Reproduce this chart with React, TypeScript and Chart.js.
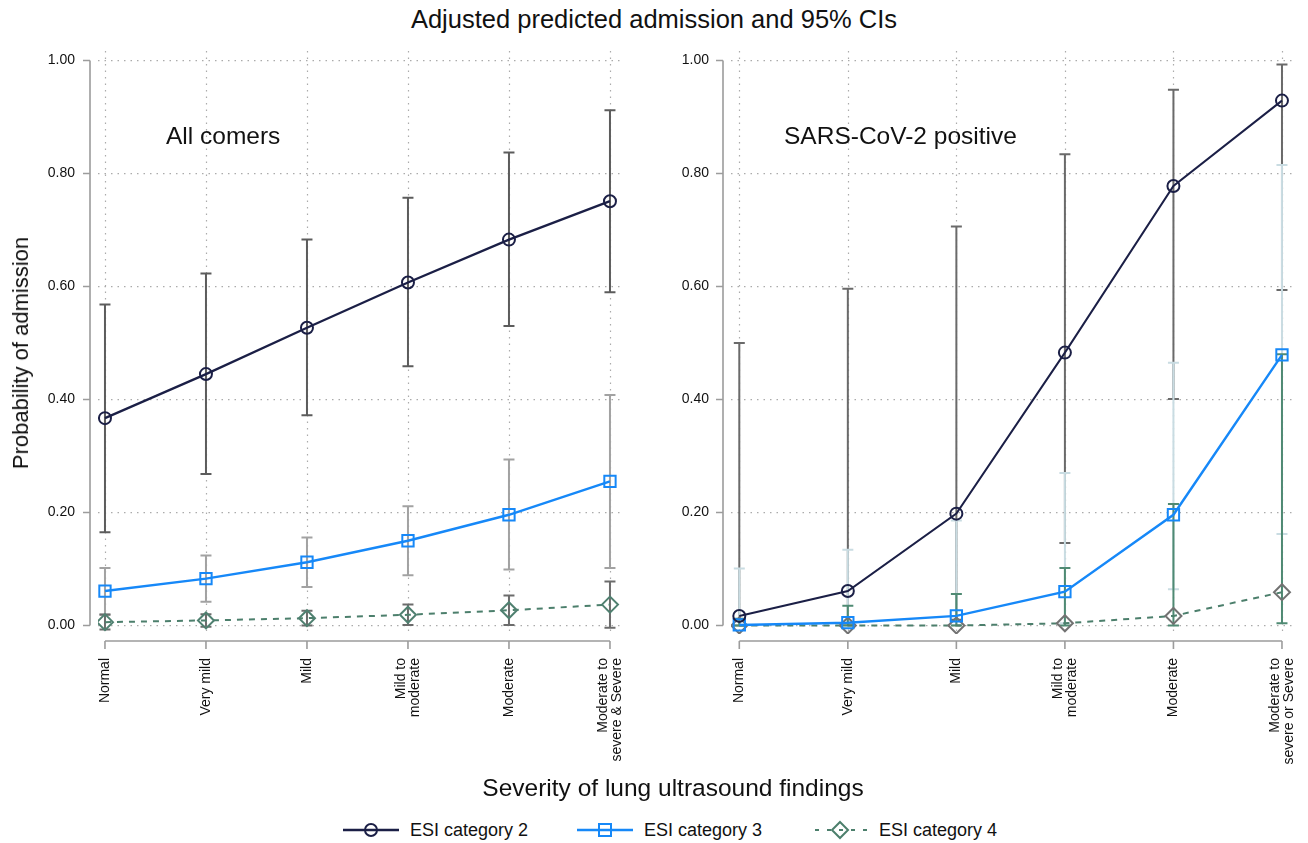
import React, { useEffect, useRef } from "react";
import { Chart, registerables } from "chart.js";

Chart.register(...registerables);

const FONT = "'Liberation Sans', Arial, Helvetica, sans-serif";

// ---------------- data ----------------
const severityAll: string[][] = [["Normal"], ["Very mild"], ["Mild"], ["Mild to", "moderate"], ["Moderate"], ["Moderate to", "severe & Severe"]];
const severityCov: string[][] = [["Normal"], ["Very mild"], ["Mild"], ["Mild to", "moderate"], ["Moderate"], ["Moderate to", "severe or Severe"]];
const yTickValues = [0, 0.2, 0.4, 0.6, 0.8, 1.0];

// All comers
const allEsi2 = [0.367, 0.445, 0.527, 0.607, 0.683, 0.751];
const allEsi2Lo = [0.165, 0.268, 0.372, 0.459, 0.530, 0.590];
const allEsi2Hi = [0.568, 0.623, 0.683, 0.757, 0.837, 0.912];
const allEsi3 = [0.061, 0.083, 0.112, 0.150, 0.196, 0.255];
const allEsi3Lo = [0.020, 0.042, 0.068, 0.089, 0.099, 0.102];
const allEsi3Hi = [0.102, 0.124, 0.156, 0.211, 0.294, 0.408];
const allEsi4 = [0.006, 0.009, 0.013, 0.019, 0.027, 0.037];
const allEsi4Lo = [-0.007, -0.002, 0.000, 0.001, 0.001, -0.004];
const allEsi4Hi = [0.019, 0.020, 0.026, 0.037, 0.053, 0.078];

// SARS-CoV-2 positive
const covEsi2 = [0.017, 0.061, 0.198, 0.483, 0.778, 0.929];
const covEsi2Lo = [0.000, 0.002, 0.010, 0.146, 0.401, 0.594];
const covEsi2Hi = [0.500, 0.596, 0.706, 0.834, 0.948, 0.993];
const covEsi3 = [0.001, 0.005, 0.017, 0.060, 0.196, 0.479];
const covEsi3Lo = [0.000, 0.000, 0.001, 0.004, 0.064, 0.162];
const covEsi3Hi = [0.101, 0.134, 0.186, 0.270, 0.465, 0.815];
const covEsi4 = [0.000, 0.000, 0.000, 0.004, 0.017, 0.059];
const covEsi4Lo = [0.000, 0.000, 0.000, 0.000, 0.000, 0.004];
const covEsi4Hi = [0.012, 0.035, 0.056, 0.102, 0.215, 0.480];

// ---------------- styles ----------------
const NAVY = "#1b1f46";
const BLUE = "#1688f8";
const GREEN = "#4c7f6c";
const AXIS = "#9c9c9c";
const GRID = "#ababab";

type Bars = { lo: number[]; hi: number[]; color: string }[];

type Panel = {
  left: number;
  labels: string[][];
  esi2: number[];
  esi3: number[];
  esi4: number[];
  bars: Bars;
  diamond: string;
  xMin: number;
  xMax: number;
  yWidth: number;
  yPad: number;
  padRight: number;
  shift: number;
  navyWidth: number;
};

const panelAll: Panel = {
  left: 0,
  labels: severityAll,
  esi2: allEsi2,
  esi3: allEsi3,
  esi4: allEsi4,
  bars: [
    { lo: allEsi2Lo, hi: allEsi2Hi, color: "#5c5c5c" },
    { lo: allEsi3Lo, hi: allEsi3Hi, color: "#a2a2a2" },
    { lo: allEsi4Lo, hi: allEsi4Hi, color: "#6c6c6c" },
  ],
  diamond: "#4f8070",
  xMin: -0.069,
  xMax: 5.129,
  yWidth: 98,
  yPad: 23,
  padRight: 31,
  shift: 0.07,
  navyWidth: 2.3,
};

const panelCov: Panel = {
  left: 654,
  labels: severityCov,
  esi2: covEsi2,
  esi3: covEsi3,
  esi4: covEsi4,
  bars: [
    { lo: covEsi2Lo, hi: covEsi2Hi, color: "#6a6a6a" },
    { lo: covEsi3Lo, hi: covEsi3Hi, color: "#c9dce2" },
    { lo: covEsi4Lo, hi: covEsi4Hi, color: "#4f8a73" },
  ],
  diamond: "#727272",
  xMin: -0.0765,
  xMax: 5.12,
  yWidth: 77,
  yPad: 22,
  padRight: 13,
  shift: 0.065,
  navyWidth: 2,
};

function stataPlugin(p: Panel) {
  return {
    id: "stataDecor",
    beforeDatasetsDraw(chart: any) {
      const { ctx, chartArea } = chart;
      const x = chart.scales.x;
      const y = chart.scales.y;
      ctx.save();
      // vertical dotted grid at categories
      ctx.strokeStyle = GRID;
      ctx.lineWidth = 1.2;
      ctx.setLineDash([1.5, 5]);
      p.labels.forEach((_, i) => {
        const px = Math.round(x.getPixelForValue(i)) + 0.5;
        ctx.beginPath();
        ctx.moveTo(px, chartArea.top);
        ctx.lineTo(px, chartArea.bottom);
        ctx.stroke();
      });
      ctx.setLineDash([]);
      // axes (Stata style: line spans outer ticks only)
      ctx.strokeStyle = AXIS;
      ctx.lineWidth = 1.6;
      const ax = chartArea.left - 8;
      const y0 = y.getPixelForValue(yTickValues[0]);
      const y1 = y.getPixelForValue(yTickValues[yTickValues.length - 1]);
      ctx.beginPath();
      ctx.moveTo(ax, y0);
      ctx.lineTo(ax, y1);
      yTickValues.forEach((v) => {
        const py = y.getPixelForValue(v);
        ctx.moveTo(ax - 7, py);
        ctx.lineTo(ax, py);
      });
      const ay = chartArea.bottom + 7;
      const x0 = x.getPixelForValue(0);
      const x1 = x.getPixelForValue(p.labels.length - 1);
      ctx.moveTo(x0, ay);
      ctx.lineTo(x1, ay);
      p.labels.forEach((_, i) => {
        const px = x.getPixelForValue(i);
        ctx.moveTo(px, ay);
        ctx.lineTo(px, ay + 8);
      });
      ctx.stroke();
      // confidence interval bars
      ctx.lineWidth = 2;
      p.bars.forEach((b) => {
        ctx.strokeStyle = b.color;
        b.lo.forEach((lo, i) => {
          const px = x.getPixelForValue(i);
          const pl = y.getPixelForValue(lo);
          const ph = y.getPixelForValue(b.hi[i]);
          ctx.beginPath();
          ctx.moveTo(px, pl);
          ctx.lineTo(px, ph);
          ctx.moveTo(px - 5.5, pl);
          ctx.lineTo(px + 5.5, pl);
          ctx.moveTo(px - 5.5, ph);
          ctx.lineTo(px + 5.5, ph);
          ctx.stroke();
        });
      });
      ctx.restore();
    },
  };
}

function buildConfig(p: Panel): any {
  const pts = (arr: number[]) => arr.map((v, i) => ({ x: i, y: v }));
  const clear = "rgba(0,0,0,0)";
  return {
    type: "line",
    data: {
      datasets: [
        {
          label: "ESI category 2",
          data: pts(p.esi2),
          borderColor: NAVY,
          borderWidth: p.navyWidth,
          pointStyle: "circle",
          pointRadius: 6,
          pointBorderWidth: 2,
          pointBorderColor: NAVY,
          pointBackgroundColor: clear,
          tension: 0,
        },
        {
          label: "ESI category 3",
          data: pts(p.esi3),
          borderColor: BLUE,
          borderWidth: 2.4,
          pointStyle: "rect",
          pointRadius: 8,
          pointBorderWidth: 2,
          pointBorderColor: BLUE,
          pointBackgroundColor: clear,
          tension: 0,
        },
        {
          label: "ESI category 4",
          data: pts(p.esi4),
          borderColor: GREEN,
          borderWidth: 2,
          borderDash: [6, 6],
          pointStyle: "rectRot",
          pointRadius: 8,
          pointBorderWidth: 2,
          pointBorderColor: p.diamond,
          pointBackgroundColor: clear,
          tension: 0,
        },
      ],
    },
    options: {
      animation: false,
      responsive: false,
      events: [],
      layout: { padding: { top: 51, right: p.padRight, left: 0, bottom: 0 } },
      plugins: { legend: { display: false }, tooltip: { enabled: false }, title: { display: false } },
      scales: {
        x: {
          type: "linear",
          min: p.xMin,
          max: p.xMax,
          afterBuildTicks: (s: any) => {
            s.ticks = p.labels.map((l, i) => ({ value: i - (l.length > 1 ? p.shift : 0) }));
          },
          afterFit: (s: any) => {
            s.height = 146;
            s.paddingLeft = 0;
            s.paddingRight = 0;
          },
          grid: { display: false },
          border: { display: false },
          ticks: {
            autoSkip: false,
            minRotation: 90,
            maxRotation: 90,
            padding: 16,
            color: "#111",
            font: { family: FONT, size: 14, lineHeight: 1.0 },
            callback: (v: number) => p.labels[Math.round(v)],
          },
        },
        y: {
          min: -0.015,
          max: 1.0168,
          afterBuildTicks: (s: any) => {
            s.ticks = yTickValues.map((v) => ({ value: v }));
          },
          afterFit: (s: any) => {
            s.width = p.yWidth;
            s.paddingTop = 0;
            s.paddingBottom = 0;
          },
          grid: { color: GRID, lineWidth: 1.2, drawTicks: false },
          border: { display: false, dash: [1.5, 5] },
          ticks: {
            padding: p.yPad,
            color: "#111",
            font: { family: FONT, size: 14 },
            callback: (v: number) => Number(v).toFixed(2),
          },
        },
      },
    },
    plugins: [stataPlugin(p)],
  };
}

function PanelChart({ p }: { p: Panel }) {
  const ref = useRef<HTMLCanvasElement>(null);
  useEffect(() => {
    const chart = new Chart(ref.current as HTMLCanvasElement, buildConfig(p));
    return () => chart.destroy();
  }, [p]);
  return (
    <canvas
      ref={ref}
      width={654}
      height={780}
      style={{ position: "absolute", left: p.left, top: 0, width: 654, height: 780 }}
    />
  );
}

function LegendItem({ left, text, kind }: { left: number; text: string; kind: number }) {
  const icon =
    kind === 0 ? (
      <svg width="56" height="20">
        <line x1="0" y1="10" x2="56" y2="10" stroke={NAVY} strokeWidth="2.5" />
        <circle cx="28" cy="10" r="6" fill="none" stroke={NAVY} strokeWidth="2" />
      </svg>
    ) : kind === 1 ? (
      <svg width="56" height="20">
        <line x1="0" y1="10" x2="56" y2="10" stroke={BLUE} strokeWidth="2.5" />
        <rect x="22" y="4" width="12" height="12" fill="none" stroke={BLUE} strokeWidth="2" />
      </svg>
    ) : (
      <svg width="56" height="20">
        <line x1="3" y1="10" x2="56" y2="10" stroke={GREEN} strokeWidth="2" strokeDasharray="4 8" />
        <polygon points="28,2 36,10 28,18 20,10" fill="none" stroke={GREEN} strokeWidth="2" />
      </svg>
    );
  return (
    <>
      <div style={{ position: "absolute", left: left, top: 820, width: 56, height: 20 }}>{icon}</div>
      <div
        style={{
          position: "absolute",
          left: left + 67,
          top: 821,
          fontSize: 18,
          lineHeight: "18px",
          whiteSpace: "nowrap",
        }}
      >
        {text}
      </div>
    </>
  );
}

export default function App() {
  return (
    <div
      style={{
        position: "absolute",
        left: 0,
        top: 0,
        width: 1308,
        height: 843,
        background: "#ffffff",
        overflow: "hidden",
        fontFamily: FONT,
        color: "#111",
      }}
    >
      <div
        style={{
          position: "absolute",
          left: 0,
          top: 7,
          width: 1308,
          textAlign: "center",
          fontSize: 25.5,
          lineHeight: "25px",
          whiteSpace: "nowrap",
        }}
      >
        Adjusted predicted admission and 95% CIs
      </div>
      <PanelChart p={panelAll} />
      <PanelChart p={panelCov} />
      <div
        style={{
          position: "absolute",
          left: 21,
          top: 353,
          fontSize: 22,
          lineHeight: "22px",
          whiteSpace: "nowrap",
          transform: "translate(-50%, -50%) rotate(-90deg)",
        }}
      >
        Probability of admission
      </div>
      <div style={{ position: "absolute", left: 166, top: 124, fontSize: 24.5, lineHeight: "24px", whiteSpace: "nowrap" }}>
        All comers
      </div>
      <div style={{ position: "absolute", left: 784, top: 124, fontSize: 24.5, lineHeight: "24px", whiteSpace: "nowrap" }}>
        SARS-CoV-2 positive
      </div>
      <div
        style={{
          position: "absolute",
          left: 0,
          top: 776,
          width: 1346,
          textAlign: "center",
          fontSize: 24.5,
          lineHeight: "24px",
          whiteSpace: "nowrap",
        }}
      >
        Severity of lung ultrasound findings
      </div>
      <LegendItem left={343} text="ESI category 2" kind={0} />
      <LegendItem left={577} text="ESI category 3" kind={1} />
      <LegendItem left={812} text="ESI category 4" kind={2} />
    </div>
  );
}
